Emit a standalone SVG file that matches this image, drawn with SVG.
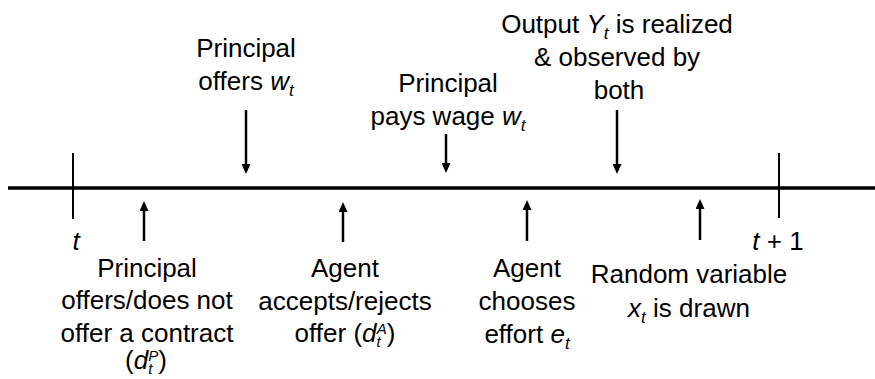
<svg xmlns="http://www.w3.org/2000/svg" width="875" height="379" viewBox="0 0 875 379">
<style>
text{font-family:"Liberation Sans",Arial,sans-serif;font-size:26px;fill:#000;text-anchor:middle}
.i{font-style:italic}
.s{font-size:17px;font-style:italic}
.ss{font-size:15px;font-style:italic}
.axis{stroke:#000;stroke-width:3.5;fill:none}
.tick{stroke:#000;stroke-width:2;fill:none}
.arr{stroke:#000;stroke-width:2.5;fill:none;marker-end:url(#ah)}
</style>
<defs>
<marker id="ah" markerUnits="userSpaceOnUse" markerWidth="10" markerHeight="9" refX="3" refY="4.5" orient="auto" viewBox="0 0 10 9">
<path d="M0,0 L10,4.5 L0,9 z" fill="#000"/>
</marker>
</defs>
<g id="timeline">
<line class="axis" x1="8" y1="188" x2="875" y2="188"/>
<line class="tick" x1="73" y1="153" x2="73" y2="219"/>
<line class="tick" x1="779" y1="153" x2="779" y2="218"/>
<text x="76" y="250" class="i">t</text>
<text x="778" y="250"><tspan class="i">t</tspan> + 1</text>
</g>
<g id="connectors">
<line class="arr" x1="246" y1="110" x2="246" y2="167"/>
<line class="arr" x1="446" y1="134" x2="446" y2="166"/>
<line class="arr" x1="617" y1="110" x2="617" y2="167"/>
<line class="arr" x1="144" y1="241" x2="144" y2="208"/>
<line class="arr" x1="343" y1="242" x2="343" y2="209"/>
<line class="arr" x1="527" y1="241" x2="527" y2="207"/>
<line class="arr" x1="700" y1="240" x2="700" y2="206"/>
</g>
<g id="principal-offers">
<text x="246" y="57">Principal</text>
<text x="246" y="90">offers <tspan class="i">w</tspan><tspan class="s" dy="6">t</tspan></text>
</g>
<g id="principal-pays">
<text x="448" y="92">Principal</text>
<text x="448" y="125">pays wage <tspan class="i">w</tspan><tspan class="s" dy="6">t</tspan></text>
</g>
<g id="output-realized">
<text x="617" y="33">Output <tspan class="i">Y</tspan><tspan class="s" dy="6">t</tspan><tspan dy="-6"> is realized</tspan></text>
<text x="617" y="66">&amp; observed by</text>
<text x="619" y="99">both</text>
</g>
<g id="principal-contract">
<text x="147" y="277">Principal</text>
<text x="147" y="309">offers/does not</text>
<text x="147" y="342">offer a contract</text>
<text x="146" y="369">(<tspan class="i">d</tspan><tspan class="ss" dy="5">t</tspan><tspan class="ss" dx="-4" dy="-13">P</tspan><tspan dy="8">)</tspan></text>
</g>
<g id="agent-accepts">
<text x="345" y="277">Agent</text>
<text x="345" y="310">accepts/rejects</text>
<text x="345" y="342">offer (<tspan class="i">d</tspan><tspan class="ss" dy="5">t</tspan><tspan class="ss" dx="-4" dy="-13">A</tspan><tspan dy="8">)</tspan></text>
</g>
<g id="agent-effort">
<text x="527" y="277">Agent</text>
<text x="527" y="310">chooses</text>
<text x="527" y="343">effort <tspan class="i">e</tspan><tspan class="s" dy="6">t</tspan></text>
</g>
<g id="random-variable">
<text x="689" y="283">Random variable</text>
<text x="689" y="317"><tspan class="i">x</tspan><tspan class="s" dy="6">t</tspan><tspan dy="-6"> is drawn</tspan></text>
</g>
</svg>
